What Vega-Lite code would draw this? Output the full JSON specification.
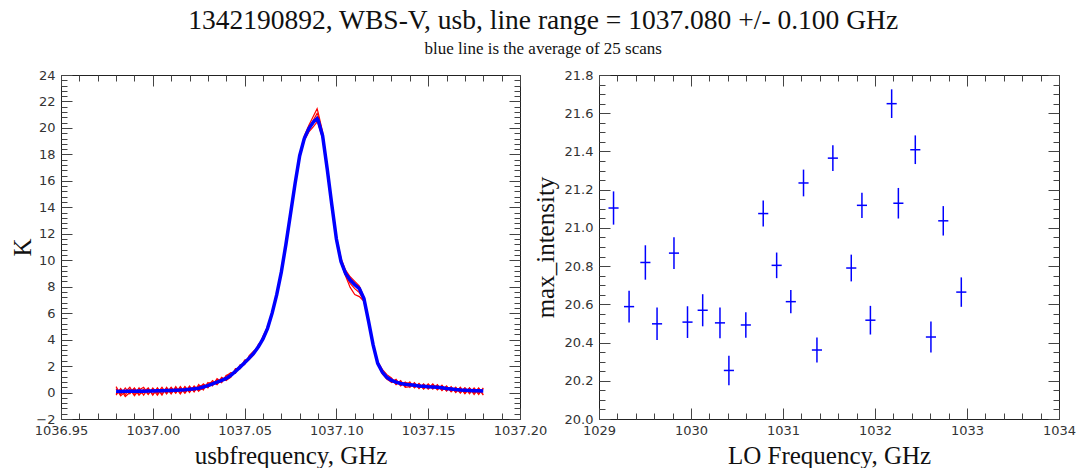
{
  "$schema": "https://vega.github.io/schema/vega-lite/v6.json",
  "padding": {"left": 10, "top": 7, "right": 5, "bottom": 5},
  "bounds": "flush",
  "spacing": 79,
  "title": {
    "text": "1342190892, WBS-V, usb, line range = 1037.080 +/- 0.100 GHz",
    "subtitle": "blue line is the average of 25 scans",
    "anchor": "middle",
    "font": "Liberation Serif",
    "fontSize": 27.5,
    "fontWeight": "normal",
    "color": "#111",
    "subtitleFont": "Liberation Serif",
    "subtitleFontSize": 17,
    "subtitleColor": "#111",
    "subtitlePadding": 6,
    "offset": 12
  },
  "datasets": {
    "spec": [
      {"f":1036.98,"s":"avg","K":0.10},{"f":1036.9825,"s":"avg","K":0.08},{"f":1036.985,"s":"avg","K":0.10},{"f":1036.9875,"s":"avg","K":0.09},{"f":1036.99,"s":"avg","K":0.10},{"f":1036.9925,"s":"avg","K":0.11},{"f":1036.995,"s":"avg","K":0.10},{"f":1036.9975,"s":"avg","K":0.12},{"f":1037.0,"s":"avg","K":0.11},{"f":1037.0025,"s":"avg","K":0.13},{"f":1037.005,"s":"avg","K":0.14},{"f":1037.0075,"s":"avg","K":0.15},{"f":1037.01,"s":"avg","K":0.16},{"f":1037.0125,"s":"avg","K":0.18},{"f":1037.015,"s":"avg","K":0.19},{"f":1037.0175,"s":"avg","K":0.21},{"f":1037.02,"s":"avg","K":0.24},{"f":1037.0225,"s":"avg","K":0.28},{"f":1037.025,"s":"avg","K":0.33},{"f":1037.0275,"s":"avg","K":0.42},{"f":1037.03,"s":"avg","K":0.52},{"f":1037.0325,"s":"avg","K":0.65},{"f":1037.035,"s":"avg","K":0.78},{"f":1037.0375,"s":"avg","K":0.92},{"f":1037.04,"s":"avg","K":1.07},{"f":1037.0425,"s":"avg","K":1.30},{"f":1037.045,"s":"avg","K":1.60},{"f":1037.0475,"s":"avg","K":1.92},{"f":1037.05,"s":"avg","K":2.25},{"f":1037.0525,"s":"avg","K":2.60},{"f":1037.055,"s":"avg","K":2.98},{"f":1037.0575,"s":"avg","K":3.45},{"f":1037.06,"s":"avg","K":4.05},{"f":1037.0625,"s":"avg","K":4.85},{"f":1037.065,"s":"avg","K":6.00},{"f":1037.0675,"s":"avg","K":7.40},{"f":1037.07,"s":"avg","K":9.10},{"f":1037.0725,"s":"avg","K":11.20},{"f":1037.075,"s":"avg","K":13.50},{"f":1037.0775,"s":"avg","K":15.80},{"f":1037.08,"s":"avg","K":17.90},{"f":1037.0825,"s":"avg","K":19.20},{"f":1037.085,"s":"avg","K":19.95},{"f":1037.0875,"s":"avg","K":20.45},{"f":1037.0895,"s":"avg","K":20.70},{"f":1037.09,"s":"avg","K":20.60},{"f":1037.0925,"s":"avg","K":19.40},{"f":1037.095,"s":"avg","K":16.90},{"f":1037.0975,"s":"avg","K":14.20},{"f":1037.1,"s":"avg","K":11.60},{"f":1037.1025,"s":"avg","K":9.90},{"f":1037.105,"s":"avg","K":9.00},{"f":1037.1075,"s":"avg","K":8.50},{"f":1037.11,"s":"avg","K":8.15},{"f":1037.1125,"s":"avg","K":7.85},{"f":1037.115,"s":"avg","K":7.10},{"f":1037.1175,"s":"avg","K":5.40},{"f":1037.12,"s":"avg","K":3.60},{"f":1037.1225,"s":"avg","K":2.20},{"f":1037.125,"s":"avg","K":1.55},{"f":1037.1275,"s":"avg","K":1.15},{"f":1037.13,"s":"avg","K":0.92},{"f":1037.1325,"s":"avg","K":0.78},{"f":1037.135,"s":"avg","K":0.68},{"f":1037.1375,"s":"avg","K":0.62},{"f":1037.14,"s":"avg","K":0.58},{"f":1037.1425,"s":"avg","K":0.55},{"f":1037.145,"s":"avg","K":0.50},{"f":1037.1475,"s":"avg","K":0.47},{"f":1037.15,"s":"avg","K":0.44},{"f":1037.1525,"s":"avg","K":0.42},{"f":1037.155,"s":"avg","K":0.40},{"f":1037.1575,"s":"avg","K":0.36},{"f":1037.16,"s":"avg","K":0.31},{"f":1037.1625,"s":"avg","K":0.27},{"f":1037.165,"s":"avg","K":0.23},{"f":1037.1675,"s":"avg","K":0.20},{"f":1037.17,"s":"avg","K":0.18},{"f":1037.1725,"s":"avg","K":0.16},{"f":1037.175,"s":"avg","K":0.14},{"f":1037.1775,"s":"avg","K":0.13},{"f":1037.18,"s":"avg","K":0.12},

      {"f":1036.98,"s":"A","K":0.45},{"f":1036.9825,"s":"A","K":-0.15},{"f":1036.985,"s":"A","K":0.35},{"f":1036.9875,"s":"A","K":-0.10},{"f":1036.99,"s":"A","K":0.30},{"f":1036.9925,"s":"A","K":-0.20},{"f":1036.995,"s":"A","K":0.25},{"f":1036.9975,"s":"A","K":-0.15},{"f":1037.0,"s":"A","K":0.35},{"f":1037.0025,"s":"A","K":-0.05},{"f":1037.005,"s":"A","K":0.40},{"f":1037.0075,"s":"A","K":-0.10},{"f":1037.01,"s":"A","K":0.35},{"f":1037.0125,"s":"A","K":-0.05},{"f":1037.015,"s":"A","K":0.45},{"f":1037.0175,"s":"A","K":0.00},{"f":1037.02,"s":"A","K":0.50},{"f":1037.0225,"s":"A","K":0.05},{"f":1037.025,"s":"A","K":0.60},{"f":1037.0275,"s":"A","K":0.20},{"f":1037.03,"s":"A","K":0.75},{"f":1037.0325,"s":"A","K":0.50},{"f":1037.035,"s":"A","K":1.05},{"f":1037.0375,"s":"A","K":0.80},{"f":1037.04,"s":"A","K":1.25},{"f":1037.0425,"s":"A","K":1.50},{"f":1037.045,"s":"A","K":1.45},{"f":1037.0475,"s":"A","K":2.10},{"f":1037.05,"s":"A","K":2.10},{"f":1037.0525,"s":"A","K":2.80},{"f":1037.055,"s":"A","K":3.15},{"f":1037.0575,"s":"A","K":3.40},{"f":1037.06,"s":"A","K":4.25},{"f":1037.0625,"s":"A","K":4.95},{"f":1037.065,"s":"A","K":5.95},{"f":1037.0675,"s":"A","K":7.50},{"f":1037.07,"s":"A","K":9.05},{"f":1037.0725,"s":"A","K":11.30},{"f":1037.075,"s":"A","K":13.40},{"f":1037.0775,"s":"A","K":15.95},{"f":1037.08,"s":"A","K":17.80},{"f":1037.0825,"s":"A","K":19.40},{"f":1037.085,"s":"A","K":20.20},{"f":1037.0875,"s":"A","K":20.90},{"f":1037.0895,"s":"A","K":21.45},{"f":1037.09,"s":"A","K":21.20},{"f":1037.0925,"s":"A","K":19.70},{"f":1037.095,"s":"A","K":17.00},{"f":1037.0975,"s":"A","K":14.30},{"f":1037.1,"s":"A","K":11.75},{"f":1037.1025,"s":"A","K":10.15},{"f":1037.105,"s":"A","K":9.25},{"f":1037.1075,"s":"A","K":8.75},{"f":1037.11,"s":"A","K":8.40},{"f":1037.1125,"s":"A","K":8.05},{"f":1037.115,"s":"A","K":7.20},{"f":1037.1175,"s":"A","K":5.50},{"f":1037.12,"s":"A","K":3.70},{"f":1037.1225,"s":"A","K":2.35},{"f":1037.125,"s":"A","K":1.75},{"f":1037.1275,"s":"A","K":1.35},{"f":1037.13,"s":"A","K":1.10},{"f":1037.1325,"s":"A","K":0.65},{"f":1037.135,"s":"A","K":0.90},{"f":1037.1375,"s":"A","K":0.45},{"f":1037.14,"s":"A","K":0.80},{"f":1037.1425,"s":"A","K":0.35},{"f":1037.145,"s":"A","K":0.70},{"f":1037.1475,"s":"A","K":0.30},{"f":1037.15,"s":"A","K":0.65},{"f":1037.1525,"s":"A","K":0.25},{"f":1037.155,"s":"A","K":0.60},{"f":1037.1575,"s":"A","K":0.15},{"f":1037.16,"s":"A","K":0.50},{"f":1037.1625,"s":"A","K":0.05},{"f":1037.165,"s":"A","K":0.40},{"f":1037.1675,"s":"A","K":0.00},{"f":1037.17,"s":"A","K":0.35},{"f":1037.1725,"s":"A","K":-0.10},{"f":1037.175,"s":"A","K":0.35},{"f":1037.1775,"s":"A","K":-0.05},{"f":1037.18,"s":"A","K":0.30},

      {"f":1036.98,"s":"B","K":-0.20},{"f":1036.9825,"s":"B","K":0.30},{"f":1036.985,"s":"B","K":-0.15},{"f":1036.9875,"s":"B","K":0.25},{"f":1036.99,"s":"B","K":-0.25},{"f":1036.9925,"s":"B","K":0.20},{"f":1036.995,"s":"B","K":0.40},{"f":1036.9975,"s":"B","K":-0.10},{"f":1037.0,"s":"B","K":0.25},{"f":1037.0025,"s":"B","K":-0.20},{"f":1037.005,"s":"B","K":0.30},{"f":1037.0075,"s":"B","K":-0.05},{"f":1037.01,"s":"B","K":0.40},{"f":1037.0125,"s":"B","K":0.00},{"f":1037.015,"s":"B","K":0.35},{"f":1037.0175,"s":"B","K":-0.05},{"f":1037.02,"s":"B","K":0.40},{"f":1037.0225,"s":"B","K":0.10},{"f":1037.025,"s":"B","K":0.45},{"f":1037.0275,"s":"B","K":0.60},{"f":1037.03,"s":"B","K":0.35},{"f":1037.0325,"s":"B","K":0.90},{"f":1037.035,"s":"B","K":0.65},{"f":1037.0375,"s":"B","K":1.15},{"f":1037.04,"s":"B","K":0.95},{"f":1037.0425,"s":"B","K":1.15},{"f":1037.045,"s":"B","K":1.80},{"f":1037.0475,"s":"B","K":1.80},{"f":1037.05,"s":"B","K":2.45},{"f":1037.0525,"s":"B","K":2.50},{"f":1037.055,"s":"B","K":2.85},{"f":1037.0575,"s":"B","K":3.65},{"f":1037.06,"s":"B","K":3.95},{"f":1037.0625,"s":"B","K":4.75},{"f":1037.065,"s":"B","K":6.15},{"f":1037.0675,"s":"B","K":7.35},{"f":1037.07,"s":"B","K":9.20},{"f":1037.0725,"s":"B","K":11.10},{"f":1037.075,"s":"B","K":13.65},{"f":1037.0775,"s":"B","K":15.70},{"f":1037.08,"s":"B","K":18.05},{"f":1037.0825,"s":"B","K":19.10},{"f":1037.085,"s":"B","K":19.85},{"f":1037.0875,"s":"B","K":20.60},{"f":1037.0895,"s":"B","K":21.10},{"f":1037.09,"s":"B","K":20.95},{"f":1037.0925,"s":"B","K":19.55},{"f":1037.095,"s":"B","K":16.85},{"f":1037.0975,"s":"B","K":14.15},{"f":1037.1,"s":"B","K":11.55},{"f":1037.1025,"s":"B","K":9.85},{"f":1037.105,"s":"B","K":8.85},{"f":1037.1075,"s":"B","K":8.25},{"f":1037.11,"s":"B","K":7.85},{"f":1037.1125,"s":"B","K":7.55},{"f":1037.115,"s":"B","K":6.95},{"f":1037.1175,"s":"B","K":5.30},{"f":1037.12,"s":"B","K":3.50},{"f":1037.1225,"s":"B","K":2.15},{"f":1037.125,"s":"B","K":1.40},{"f":1037.1275,"s":"B","K":1.00},{"f":1037.13,"s":"B","K":0.80},{"f":1037.1325,"s":"B","K":1.00},{"f":1037.135,"s":"B","K":0.55},{"f":1037.1375,"s":"B","K":0.80},{"f":1037.14,"s":"B","K":0.40},{"f":1037.1425,"s":"B","K":0.75},{"f":1037.145,"s":"B","K":0.30},{"f":1037.1475,"s":"B","K":0.65},{"f":1037.15,"s":"B","K":0.25},{"f":1037.1525,"s":"B","K":0.60},{"f":1037.155,"s":"B","K":0.20},{"f":1037.1575,"s":"B","K":0.55},{"f":1037.16,"s":"B","K":0.10},{"f":1037.1625,"s":"B","K":0.45},{"f":1037.165,"s":"B","K":0.00},{"f":1037.1675,"s":"B","K":0.40},{"f":1037.17,"s":"B","K":-0.05},{"f":1037.1725,"s":"B","K":0.35},{"f":1037.175,"s":"B","K":-0.15},{"f":1037.1775,"s":"B","K":0.30},{"f":1037.18,"s":"B","K":-0.20},

      {"f":1036.98,"s":"C","K":0.30},{"f":1036.9825,"s":"C","K":-0.25},{"f":1036.985,"s":"C","K":0.05},{"f":1036.9875,"s":"C","K":0.40},{"f":1036.99,"s":"C","K":-0.15},{"f":1036.9925,"s":"C","K":0.35},{"f":1036.995,"s":"C","K":-0.20},{"f":1036.9975,"s":"C","K":0.30},{"f":1037.0,"s":"C","K":-0.20},{"f":1037.0025,"s":"C","K":0.35},{"f":1037.005,"s":"C","K":-0.10},{"f":1037.0075,"s":"C","K":0.35},{"f":1037.01,"s":"C","K":-0.10},{"f":1037.0125,"s":"C","K":0.45},{"f":1037.015,"s":"C","K":-0.05},{"f":1037.0175,"s":"C","K":0.45},{"f":1037.02,"s":"C","K":0.00},{"f":1037.0225,"s":"C","K":0.50},{"f":1037.025,"s":"C","K":0.10},{"f":1037.0275,"s":"C","K":0.65},{"f":1037.03,"s":"C","K":0.40},{"f":1037.0325,"s":"C","K":0.65},{"f":1037.035,"s":"C","K":0.95},{"f":1037.0375,"s":"C","K":0.75},{"f":1037.04,"s":"C","K":1.30},{"f":1037.0425,"s":"C","K":1.35},{"f":1037.045,"s":"C","K":1.55},{"f":1037.0475,"s":"C","K":2.00},{"f":1037.05,"s":"C","K":2.30},{"f":1037.0525,"s":"C","K":2.65},{"f":1037.055,"s":"C","K":3.05},{"f":1037.0575,"s":"C","K":3.50},{"f":1037.06,"s":"C","K":3.95},{"f":1037.0625,"s":"C","K":5.00},{"f":1037.065,"s":"C","K":6.05},{"f":1037.0675,"s":"C","K":7.45},{"f":1037.07,"s":"C","K":9.00},{"f":1037.0725,"s":"C","K":11.25},{"f":1037.075,"s":"C","K":13.55},{"f":1037.0775,"s":"C","K":15.85},{"f":1037.08,"s":"C","K":17.95},{"f":1037.0825,"s":"C","K":19.30},{"f":1037.085,"s":"C","K":20.05},{"f":1037.0875,"s":"C","K":20.45},{"f":1037.0895,"s":"C","K":20.85},{"f":1037.09,"s":"C","K":20.70},{"f":1037.0925,"s":"C","K":19.30},{"f":1037.095,"s":"C","K":16.95},{"f":1037.0975,"s":"C","K":14.25},{"f":1037.1,"s":"C","K":11.65},{"f":1037.1025,"s":"C","K":9.95},{"f":1037.105,"s":"C","K":9.10},{"f":1037.1075,"s":"C","K":8.60},{"f":1037.11,"s":"C","K":8.25},{"f":1037.1125,"s":"C","K":7.95},{"f":1037.115,"s":"C","K":7.15},{"f":1037.1175,"s":"C","K":5.45},{"f":1037.12,"s":"C","K":3.65},{"f":1037.1225,"s":"C","K":2.25},{"f":1037.125,"s":"C","K":1.60},{"f":1037.1275,"s":"C","K":1.20},{"f":1037.13,"s":"C","K":0.75},{"f":1037.1325,"s":"C","K":0.90},{"f":1037.135,"s":"C","K":0.50},{"f":1037.1375,"s":"C","K":0.75},{"f":1037.14,"s":"C","K":0.70},{"f":1037.1425,"s":"C","K":0.40},{"f":1037.145,"s":"C","K":0.65},{"f":1037.1475,"s":"C","K":0.25},{"f":1037.15,"s":"C","K":0.60},{"f":1037.1525,"s":"C","K":0.35},{"f":1037.155,"s":"C","K":0.55},{"f":1037.1575,"s":"C","K":0.20},{"f":1037.16,"s":"C","K":0.45},{"f":1037.1625,"s":"C","K":0.10},{"f":1037.165,"s":"C","K":0.35},{"f":1037.1675,"s":"C","K":-0.05},{"f":1037.17,"s":"C","K":0.35},{"f":1037.1725,"s":"C","K":0.00},{"f":1037.175,"s":"C","K":0.30},{"f":1037.1775,"s":"C","K":-0.15},{"f":1037.18,"s":"C","K":0.35},

      {"f":1036.98,"s":"D","K":-0.10},{"f":1036.9825,"s":"D","K":0.25},{"f":1036.985,"s":"D","K":-0.30},{"f":1036.9875,"s":"D","K":0.00},{"f":1036.99,"s":"D","K":0.35},{"f":1036.9925,"s":"D","K":-0.15},{"f":1036.995,"s":"D","K":0.05},{"f":1036.9975,"s":"D","K":0.35},{"f":1037.0,"s":"D","K":-0.15},{"f":1037.0025,"s":"D","K":0.30},{"f":1037.005,"s":"D","K":-0.20},{"f":1037.0075,"s":"D","K":0.40},{"f":1037.01,"s":"D","K":-0.05},{"f":1037.0125,"s":"D","K":0.35},{"f":1037.015,"s":"D","K":-0.10},{"f":1037.0175,"s":"D","K":0.40},{"f":1037.02,"s":"D","K":0.05},{"f":1037.0225,"s":"D","K":0.45},{"f":1037.025,"s":"D","K":0.15},{"f":1037.0275,"s":"D","K":0.30},{"f":1037.03,"s":"D","K":0.70},{"f":1037.0325,"s":"D","K":0.80},{"f":1037.035,"s":"D","K":0.60},{"f":1037.0375,"s":"D","K":1.05},{"f":1037.04,"s":"D","K":0.90},{"f":1037.0425,"s":"D","K":1.25},{"f":1037.045,"s":"D","K":1.70},{"f":1037.0475,"s":"D","K":1.80},{"f":1037.05,"s":"D","K":2.20},{"f":1037.0525,"s":"D","K":2.50},{"f":1037.055,"s":"D","K":2.95},{"f":1037.0575,"s":"D","K":3.35},{"f":1037.06,"s":"D","K":4.15},{"f":1037.0625,"s":"D","K":4.75},{"f":1037.065,"s":"D","K":5.90},{"f":1037.0675,"s":"D","K":7.30},{"f":1037.07,"s":"D","K":9.15},{"f":1037.0725,"s":"D","K":11.15},{"f":1037.075,"s":"D","K":13.45},{"f":1037.0775,"s":"D","K":15.75},{"f":1037.08,"s":"D","K":17.85},{"f":1037.0825,"s":"D","K":19.05},{"f":1037.085,"s":"D","K":19.70},{"f":1037.0875,"s":"D","K":20.10},{"f":1037.0895,"s":"D","K":20.45},{"f":1037.09,"s":"D","K":20.35},{"f":1037.0925,"s":"D","K":19.20},{"f":1037.095,"s":"D","K":16.80},{"f":1037.0975,"s":"D","K":14.10},{"f":1037.1,"s":"D","K":11.45},{"f":1037.1025,"s":"D","K":9.80},{"f":1037.105,"s":"D","K":8.80},{"f":1037.1075,"s":"D","K":7.95},{"f":1037.11,"s":"D","K":7.40},{"f":1037.1125,"s":"D","K":7.25},{"f":1037.115,"s":"D","K":6.90},{"f":1037.1175,"s":"D","K":5.35},{"f":1037.12,"s":"D","K":3.55},{"f":1037.1225,"s":"D","K":2.10},{"f":1037.125,"s":"D","K":1.50},{"f":1037.1275,"s":"D","K":1.10},{"f":1037.13,"s":"D","K":1.05},{"f":1037.1325,"s":"D","K":0.60},{"f":1037.135,"s":"D","K":0.85},{"f":1037.1375,"s":"D","K":0.40},{"f":1037.14,"s":"D","K":0.45},{"f":1037.1425,"s":"D","K":0.70},{"f":1037.145,"s":"D","K":0.35},{"f":1037.1475,"s":"D","K":0.60},{"f":1037.15,"s":"D","K":0.30},{"f":1037.1525,"s":"D","K":0.65},{"f":1037.155,"s":"D","K":0.25},{"f":1037.1575,"s":"D","K":0.50},{"f":1037.16,"s":"D","K":0.15},{"f":1037.1625,"s":"D","K":0.40},{"f":1037.165,"s":"D","K":0.05},{"f":1037.1675,"s":"D","K":0.35},{"f":1037.17,"s":"D","K":-0.10},{"f":1037.1725,"s":"D","K":0.35},{"f":1037.175,"s":"D","K":-0.05},{"f":1037.1775,"s":"D","K":0.35},{"f":1037.18,"s":"D","K":-0.15}
    ],
    "lo": [
      {"f":1029.158,"fe":0.055,"I":21.104,"Ie":0.087},
      {"f":1029.327,"fe":0.055,"I":20.588,"Ie":0.083},
      {"f":1029.504,"fe":0.055,"I":20.819,"Ie":0.090},
      {"f":1029.631,"fe":0.055,"I":20.498,"Ie":0.085},
      {"f":1029.815,"fe":0.055,"I":20.868,"Ie":0.083},
      {"f":1029.962,"fe":0.055,"I":20.507,"Ie":0.083},
      {"f":1030.127,"fe":0.055,"I":20.569,"Ie":0.084},
      {"f":1030.315,"fe":0.055,"I":20.503,"Ie":0.080},
      {"f":1030.412,"fe":0.055,"I":20.254,"Ie":0.077},
      {"f":1030.596,"fe":0.055,"I":20.492,"Ie":0.067},
      {"f":1030.785,"fe":0.055,"I":21.075,"Ie":0.068},
      {"f":1030.931,"fe":0.055,"I":20.804,"Ie":0.067},
      {"f":1031.085,"fe":0.055,"I":20.614,"Ie":0.061},
      {"f":1031.223,"fe":0.055,"I":21.235,"Ie":0.070},
      {"f":1031.369,"fe":0.055,"I":20.361,"Ie":0.065},
      {"f":1031.542,"fe":0.055,"I":21.365,"Ie":0.067},
      {"f":1031.742,"fe":0.055,"I":20.790,"Ie":0.070},
      {"f":1031.858,"fe":0.055,"I":21.118,"Ie":0.066},
      {"f":1031.950,"fe":0.055,"I":20.517,"Ie":0.075},
      {"f":1032.181,"fe":0.055,"I":21.650,"Ie":0.075},
      {"f":1032.254,"fe":0.055,"I":21.129,"Ie":0.080},
      {"f":1032.438,"fe":0.055,"I":21.409,"Ie":0.075},
      {"f":1032.608,"fe":0.055,"I":20.429,"Ie":0.081},
      {"f":1032.742,"fe":0.055,"I":21.037,"Ie":0.077},
      {"f":1032.938,"fe":0.055,"I":20.664,"Ie":0.077}
    ]
  },
  "hconcat": [
    {
      "width": 459,
      "height": 344,
      "data": {"name": "spec"},
      "resolve": {"axis": {"x": "independent", "y": "independent"}},
      "layer": [
        {
          "transform": [{"filter": {"field": "s", "oneOf": ["A"]}}],
          "mark": {"type": "line", "color": "#ff0000", "strokeWidth": 1.2},
          "encoding": {
            "x": {"field": "f", "type": "quantitative", "scale": {"domain": [1036.95, 1037.2], "nice": false, "zero": false},
              "axis": {"orient": "bottom", "values": [1036.95, 1037.0, 1037.05, 1037.1, 1037.15, 1037.2], "format": ".2f", "tickSize": -11, "labelPadding": 16, "title": "usbfrequency, GHz", "titlePadding": 6}},
            "y": {"field": "K", "type": "quantitative", "scale": {"domain": [-2, 24], "nice": false, "zero": false},
              "axis": {"orient": "left", "values": [-2, 0, 2, 4, 6, 8, 10, 12, 14, 16, 18, 20, 22, 24], "format": "d", "tickSize": -11, "labelPadding": 17, "title": "K", "titlePadding": 0}}
          }
        },
        {
          "transform": [{"filter": {"field": "s", "oneOf": ["B"]}}],
          "mark": {"type": "line", "color": "#ff0000", "strokeWidth": 1.2},
          "encoding": {
            "x": {"field": "f", "type": "quantitative", "scale": {"domain": [1036.95, 1037.2], "nice": false, "zero": false},
              "axis": {"orient": "top", "values": [1036.95, 1037.0, 1037.05, 1037.1, 1037.15, 1037.2], "tickSize": -11, "labels": false, "title": null}},
            "y": {"field": "K", "type": "quantitative", "scale": {"domain": [-2, 24], "nice": false, "zero": false},
              "axis": {"orient": "right", "values": [-2, 0, 2, 4, 6, 8, 10, 12, 14, 16, 18, 20, 22, 24], "tickSize": -11, "labels": false, "title": null}}
          }
        },
        {
          "transform": [{"filter": {"field": "s", "oneOf": ["C", "D"]}}],
          "mark": {"type": "line", "color": "#ff0000", "strokeWidth": 1.2},
          "encoding": {
            "detail": {"field": "s", "type": "nominal"},
            "x": {"field": "f", "type": "quantitative", "scale": {"domain": [1036.95, 1037.2], "nice": false, "zero": false},
              "axis": {"orient": "bottom", "values": [1036.96, 1036.97, 1036.98, 1036.99, 1037.01, 1037.02, 1037.03, 1037.04, 1037.06, 1037.07, 1037.08, 1037.09, 1037.11, 1037.12, 1037.13, 1037.14, 1037.16, 1037.17, 1037.18, 1037.19], "tickSize": -6, "labels": false, "title": null}},
            "y": {"field": "K", "type": "quantitative", "scale": {"domain": [-2, 24], "nice": false, "zero": false},
              "axis": {"orient": "left", "values": [-1.6,-1.2,-0.8,-0.4,0.4,0.8,1.2,1.6,2.4,2.8,3.2,3.6,4.4,4.8,5.2,5.6,6.4,6.8,7.2,7.6,8.4,8.8,9.2,9.6,10.4,10.8,11.2,11.6,12.4,12.8,13.2,13.6,14.4,14.8,15.2,15.6,16.4,16.8,17.2,17.6,18.4,18.8,19.2,19.6,20.4,20.8,21.2,21.6,22.4,22.8,23.2,23.6], "tickSize": -6, "labels": false, "title": null}}
          }
        },
        {
          "transform": [{"filter": {"field": "s", "oneOf": ["avg"]}}],
          "mark": {"type": "line", "color": "#0000ff", "strokeWidth": 3.5},
          "encoding": {
            "x": {"field": "f", "type": "quantitative", "scale": {"domain": [1036.95, 1037.2], "nice": false, "zero": false},
              "axis": {"orient": "top", "values": [1036.96, 1036.97, 1036.98, 1036.99, 1037.01, 1037.02, 1037.03, 1037.04, 1037.06, 1037.07, 1037.08, 1037.09, 1037.11, 1037.12, 1037.13, 1037.14, 1037.16, 1037.17, 1037.18, 1037.19], "tickSize": -6, "labels": false, "title": null}},
            "y": {"field": "K", "type": "quantitative", "scale": {"domain": [-2, 24], "nice": false, "zero": false},
              "axis": {"orient": "right", "values": [-1.6,-1.2,-0.8,-0.4,0.4,0.8,1.2,1.6,2.4,2.8,3.2,3.6,4.4,4.8,5.2,5.6,6.4,6.8,7.2,7.6,8.4,8.8,9.2,9.6,10.4,10.8,11.2,11.6,12.4,12.8,13.2,13.6,14.4,14.8,15.2,15.6,16.4,16.8,17.2,17.6,18.4,18.8,19.2,19.6,20.4,20.8,21.2,21.6,22.4,22.8,23.2,23.6], "tickSize": -6, "labels": false, "title": null}}
          }
        }
      ]
    },
    {
      "width": 460,
      "height": 344,
      "data": {"name": "lo"},
      "resolve": {"axis": {"x": "independent", "y": "independent"}},
      "layer": [
        {
          "mark": {"type": "errorbar", "color": "#0000ff", "thickness": 1.5},
          "encoding": {
            "x": {"field": "f", "type": "quantitative", "scale": {"domain": [1029, 1034], "nice": false, "zero": false},
              "axis": {"orient": "bottom", "values": [1029, 1030, 1031, 1032, 1033, 1034], "format": "d", "tickSize": -11, "labelPadding": 16, "title": "LO Frequency, GHz", "titlePadding": 6}},
            "y": {"field": "I", "type": "quantitative", "scale": {"domain": [20, 21.8], "nice": false, "zero": false},
              "axis": {"orient": "left", "values": [20, 20.2, 20.4, 20.6, 20.8, 21, 21.2, 21.4, 21.6, 21.8], "format": ".1f", "tickSize": -11, "labelPadding": 17, "title": "max_intensity", "titlePadding": 6}},
            "yError": {"field": "Ie"}
          }
        },
        {
          "mark": {"type": "errorbar", "color": "#0000ff", "thickness": 1.5},
          "encoding": {
            "x": {"field": "f", "type": "quantitative", "scale": {"domain": [1029, 1034], "nice": false, "zero": false},
              "axis": {"orient": "bottom", "values": [1029.2,1029.4,1029.6,1029.8,1030.2,1030.4,1030.6,1030.8,1031.2,1031.4,1031.6,1031.8,1032.2,1032.4,1032.6,1032.8,1033.2,1033.4,1033.6,1033.8], "tickSize": -6, "labels": false, "title": null}},
            "xError": {"field": "fe"},
            "y": {"field": "I", "type": "quantitative", "scale": {"domain": [20, 21.8], "nice": false, "zero": false},
              "axis": {"orient": "left", "values": [20.05,20.1,20.15,20.25,20.3,20.35,20.45,20.5,20.55,20.65,20.7,20.75,20.85,20.9,20.95,21.05,21.1,21.15,21.25,21.3,21.35,21.45,21.5,21.55,21.65,21.7,21.75], "tickSize": -6, "labels": false, "title": null}}
          }
        },
        {
          "mark": {"type": "point", "opacity": 0},
          "encoding": {
            "x": {"field": "f", "type": "quantitative", "scale": {"domain": [1029, 1034], "nice": false, "zero": false},
              "axis": {"orient": "top", "values": [1029, 1030, 1031, 1032, 1033, 1034], "tickSize": -11, "labels": false, "title": null}},
            "y": {"field": "I", "type": "quantitative", "scale": {"domain": [20, 21.8], "nice": false, "zero": false},
              "axis": {"orient": "right", "values": [20, 20.2, 20.4, 20.6, 20.8, 21, 21.2, 21.4, 21.6, 21.8], "tickSize": -11, "labels": false, "title": null}}
          }
        },
        {
          "mark": {"type": "point", "opacity": 0},
          "encoding": {
            "x": {"field": "f", "type": "quantitative", "scale": {"domain": [1029, 1034], "nice": false, "zero": false},
              "axis": {"orient": "top", "values": [1029.2,1029.4,1029.6,1029.8,1030.2,1030.4,1030.6,1030.8,1031.2,1031.4,1031.6,1031.8,1032.2,1032.4,1032.6,1032.8,1033.2,1033.4,1033.6,1033.8], "tickSize": -6, "labels": false, "title": null}},
            "y": {"field": "I", "type": "quantitative", "scale": {"domain": [20, 21.8], "nice": false, "zero": false},
              "axis": {"orient": "right", "values": [20.05,20.1,20.15,20.25,20.3,20.35,20.45,20.5,20.55,20.65,20.7,20.75,20.85,20.9,20.95,21.05,21.1,21.15,21.25,21.3,21.35,21.45,21.5,21.55,21.65,21.7,21.75], "tickSize": -6, "labels": false, "title": null}}
          }
        }
      ]
    }
  ],
  "config": {
    "view": {"stroke": "#222", "strokeWidth": 1},
    "axis": {
      "labelFont": "DejaVu Sans",
      "labelFontSize": 13,
      "labelColor": "#333",
      "tickColor": "#444",
      "tickWidth": 1,
      "domain": false,
      "grid": false,
      "labelFlush": false,
      "labelOverlap": false,
      "titleFont": "Liberation Serif",
      "titleFontSize": 25,
      "titleFontWeight": "normal",
      "titleColor": "#111"
    }
  }
}
